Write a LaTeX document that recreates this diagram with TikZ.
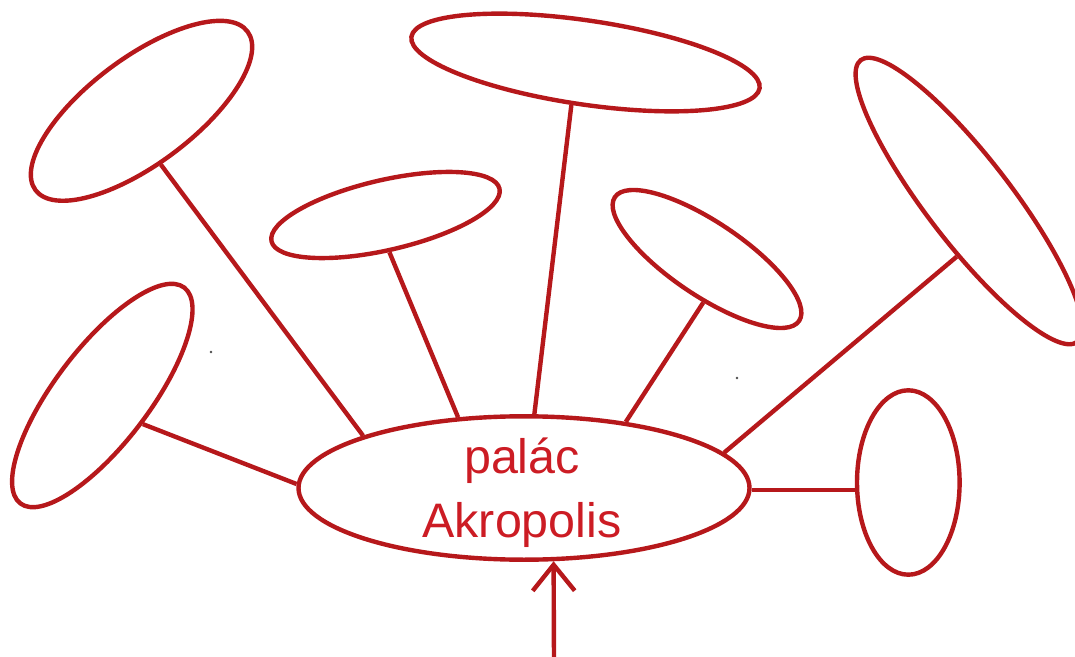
\documentclass[tikz,border=0pt]{standalone}
\usepackage{fontspec}
\setmainfont{Liberation Sans}
\usetikzlibrary{shapes.geometric,arrows.meta}
\definecolor{mapred}{RGB}{182,24,27}
\definecolor{maptext}{RGB}{204,28,36}

\begin{document}
\begin{tikzpicture}[x=0.5pt,y=-0.5pt,
  bubble/.style={ellipse,draw=mapred,line width=2.2pt,inner sep=0pt},
  link/.style={draw=mapred,line width=2.2pt}]
  \clip (0,0) rectangle (1075,657);

  %% centre
  \node [bubble,minimum width=225.5pt,minimum height=71.7pt] (hub) at (524,488) {};
  \node [inner sep=0pt,align=center,text=maptext,font=\fontsize{24.2pt}{32.2pt}\selectfont] (hubtext) at (522,492.5) {palác\\Akropolis};

  %% empty bubbles around it
  \node [bubble,rotate=52.8,minimum width=135.5pt,minimum height=47.4pt] (lowleft) at (102.3,395.5) {};
  \node [bubble,rotate=36.8,minimum width=132.4pt,minimum height=53pt] (upleft) at (141.5,110.8) {};
  \node [bubble,rotate=13,minimum width=117pt,minimum height=35pt] (midleft) at (385.5,215) {};
  \node [bubble,rotate=-8.4,minimum width=176pt,minimum height=42pt] (top) at (585.5,62.5) {};
  \node [bubble,rotate=-33.9,minimum width=111pt,minimum height=36.7pt] (midright) at (707,259) {};
  \node [bubble,rotate=-52.45,minimum width=177.7pt,minimum height=42.4pt] (bigright) at (969,201) {};
  \node [bubble,minimum width=51.3pt,minimum height=92.2pt] (smallright) at (908.3,482.5) {};

  %% links
  \draw [link] (lowleft.-88) -- (hub.179);
  \draw [link] (upleft.-107) -- (hub.162.3);
  \draw [link] (midleft.-97) -- (hub.133);
  \draw [link] (top.-100) -- (hub.82);
  \draw [link] (midright.-61) -- (hub.33.5);
  \draw [link] (bigright.-50) -- (hub.10.3);
  \draw [link] (smallright.188) -- (smallright.188 -| hub.east);

  %% arrow coming in from below
  \coordinate (src) at (554,662);
  \draw [link,-{Straight Barb[length=13pt,width=21pt]}] (src) -- (hub.-68);

  \fill [black!70] (211,352) circle [radius=1.3] (737,378) circle [radius=1.3];
\end{tikzpicture}
\end{document}
